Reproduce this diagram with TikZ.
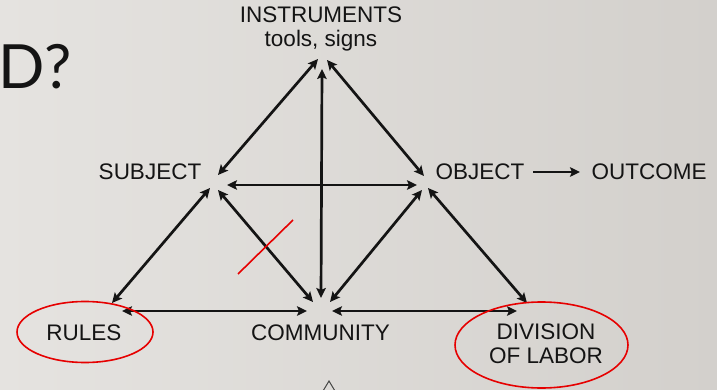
\documentclass[tikz,border=0pt]{standalone}
\usepackage{fontspec}
\setmainfont{Liberation Sans}
\newfontfamily\titlefont{Lato}
\usetikzlibrary{arrows.meta}
\definecolor{bgleft}{RGB}{229,227,224}
\definecolor{bgright}{RGB}{211,208,204}
\definecolor{ink}{RGB}{20,20,20}
\definecolor{mark}{RGB}{230,0,0}
\tikzset{
  lbl/.style={inner sep=0pt, text=ink, font=\fontsize{22.5}{24}\selectfont},
  biarrow/.style={line width=2.7pt, draw=ink, {Stealth[length=10pt,width=9.5pt,inset=2pt]}-{Stealth[length=10pt,width=9.5pt,inset=2pt]}},
  onearrow/.style={line width=2.7pt, draw=ink, -{Stealth[length=10pt,width=9.5pt,inset=2pt]}},
  redmark/.style={draw=mark, line width=1.6pt}
}
\begin{document}
\begin{tikzpicture}[x=1pt,y=-1pt]
\useasboundingbox (0,0) rectangle (717,390);
\clip (0,0) rectangle (717,390);
\shade[left color=bgleft, right color=bgright] (0,0) rectangle (717,390);

% title fragment
\node[inner sep=0pt, anchor=base east, text=ink, font=\titlefont\fontsize{61}{61}\selectfont] (title) at (72,89) {ED?};

% labels
\node[lbl, anchor=north, align=center] (instr) at (321,7) {INSTRUMENTS\\tools, signs};
\node[lbl, anchor=base] (subject) at (150,180) {SUBJECT};
\node[lbl, anchor=base] (object) at (480,180) {OBJECT};
\node[lbl, anchor=base] (outcome) at (649,180) {OUTCOME};
\node[lbl, anchor=base] (rules) at (84,340) {RULES};
\node[lbl, anchor=base] (community) at (320.5,340) {COMMUNITY};
\node[lbl, anchor=north, align=center] (division) at (546,324) {DIVISION\\OF LABOR};

% connector end points
\coordinate (iL) at (318,59);
\coordinate (iR) at (327,60);
\coordinate (iC) at (322,69);
\coordinate (sI) at (218,175);
\coordinate (sO) at (227,185);
\coordinate (sR) at (210,188);
\coordinate (sC) at (218,190);
\coordinate (oI) at (424,176);
\coordinate (oS) at (417,185);
\coordinate (oC) at (422,190);
\coordinate (oD) at (428,188);
\coordinate (oOut) at (533,172);
\coordinate (outL) at (580,172);
\coordinate (rS) at (112,303);
\coordinate (rC) at (122,311);
\coordinate (cR) at (307,311);
\coordinate (cD) at (332,311);
\coordinate (cS) at (313,302);
\coordinate (cI) at (321,298);
\coordinate (cO) at (330,302);
\coordinate (dO) at (527,303);
\coordinate (dC) at (517,311);

% connectors
\draw[biarrow] (sI) -- (iL);
\draw[biarrow] (oI) -- (iR);
\draw[biarrow] (cI) -- (iC);
\draw[biarrow] (sO) -- (oS);
\draw[biarrow] (sR) -- (rS);
\draw[biarrow] (sC) -- (cS);
\draw[biarrow] (oC) -- (cO);
\draw[biarrow] (oD) -- (dO);
\draw[biarrow] (rC) -- (cR);
\draw[biarrow] (cD) -- (dC);
\draw[onearrow] (oOut) -- (outL);

% red annotations
\draw[redmark] (238,274) -- (293,220);
\draw[redmark] (85,332) ellipse [x radius=68, y radius=30.5];
\draw[redmark] (541.5,345) ellipse [x radius=86.5, y radius=43];

% small triangle at bottom
\draw[draw=ink!80, line width=1pt, line join=miter] (320,396) -- (329,381) -- (338,396);
\end{tikzpicture}
\end{document}
